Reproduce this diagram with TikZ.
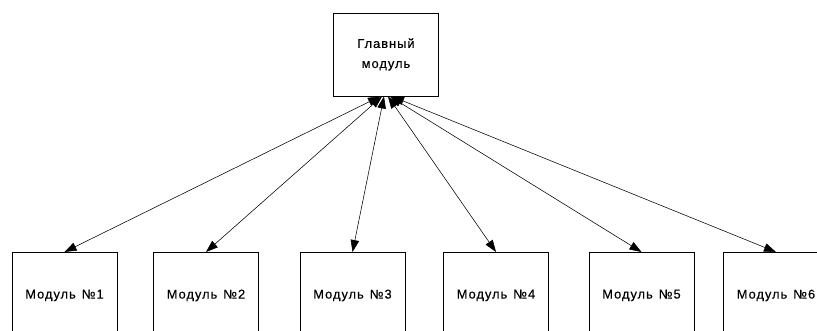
\documentclass[tikz,border=0pt]{standalone}
\usepackage{fontspec}
\setmainfont{Liberation Sans}[LetterSpace=8,FakeBold=0.35]
\usetikzlibrary{arrows.meta}
\tikzset{
  modbox/.style={draw=black, line width=0.9pt, fill=white, minimum width=105pt, inner sep=0pt,
    font=\fontsize{12.8pt}{20pt}\selectfont, align=center},
  topbox/.style={modbox, minimum height=83pt},
  lowbox/.style={modbox, minimum height=86pt, anchor=north},
  link/.style={line width=0.55pt, {Triangle[length=12pt,width=8.5pt]}-{Triangle[length=12pt,width=8.5pt]}}
}
\begin{document}
\begin{tikzpicture}[x=1pt,y=-1pt]
\useasboundingbox (0,0) rectangle (817,331);
\clip (0,0) rectangle (817,331);
\node[topbox] (main) at (386,54.5) {Главный\\модуль};
\node[lowbox] (m1) at (64.5,252) {Модуль\hspace{6pt}№1};
\node[lowbox] (m2) at (206,252) {Модуль\hspace{6pt}№2};
\node[lowbox] (m3) at (352.5,252) {Модуль\hspace{6pt}№3};
\node[lowbox] (m4) at (496,252) {Модуль\hspace{6pt}№4};
\node[lowbox] (m5) at (641.5,252) {Модуль\hspace{6pt}№5};
\node[lowbox] (m6) at (776,252) {Модуль\hspace{6pt}№6};
\foreach \m/\s in {m1/-6,m2/-4,m3/-2,m4/2,m5/4,m6/6}
  \draw[link] ([xshift=\s pt]main.south) -- (\m.north);
\end{tikzpicture}
\end{document}
